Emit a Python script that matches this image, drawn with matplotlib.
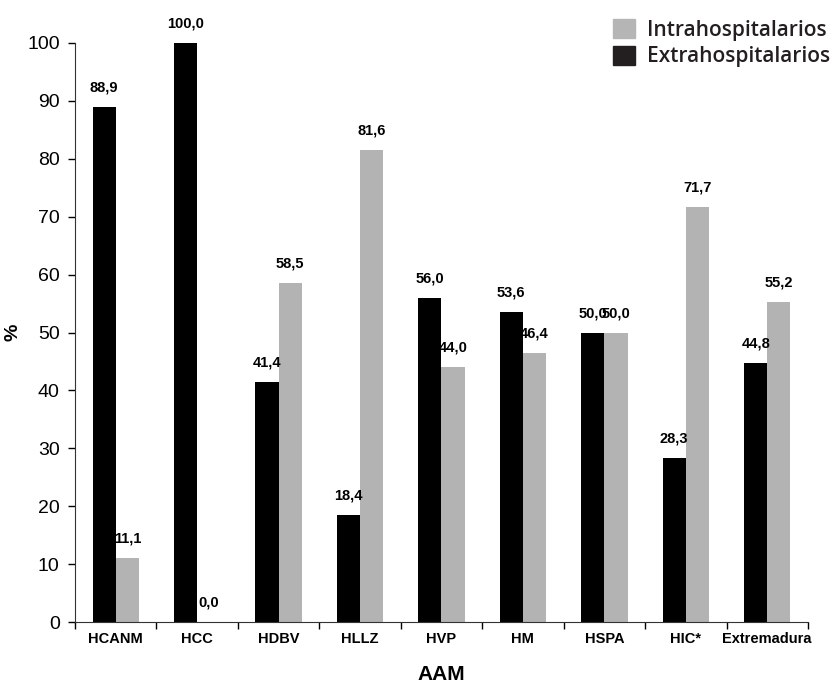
import numpy as np
import matplotlib.pyplot as plt
from matplotlib.patches import Patch

# Data
categories = ["HCANM", "HCC", "HDBV", "HLLZ", "HVP", "HM", "HSPA", "HIC*", "Extremadura"]
extra = [88.9, 100.0, 41.4, 18.4, 56.0, 53.6, 50.0, 28.3, 44.8]
intra = [11.1, 0.0, 58.5, 81.6, 44.0, 46.4, 50.0, 71.7, 55.2]

plt.rcParams['font.family'] = ['Liberation Sans', 'DejaVu Sans']

fig = plt.figure(figsize=(8.39, 6.89), dpi=100)
ax = fig.add_axes([0.0894, 0.0972, 0.8736, 0.8404])

x = np.arange(len(categories))
w = 0.285
b1 = ax.bar(x - w / 2, extra, w, color="#000000")
b2 = ax.bar(x + w / 2, intra, w, color="#b3b3b3")

# value labels
for bars, vals in [(b1, extra), (b2, intra)]:
    for rect, v in zip(bars, vals):
        ax.annotate(f"{v:.1f}".replace(".", ","),
                    (rect.get_x() + rect.get_width() / 2, v),
                    xytext=(0, 9), textcoords="offset points",
                    ha="center", va="bottom", fontsize=10.5, fontweight="bold")

ax.set_xlim(-0.5, len(categories) - 0.5)
ax.set_ylim(0, 100)
ax.set_yticks(range(0, 101, 10))
ax.tick_params(axis="y", labelsize=14, length=5, width=1, direction="out", pad=6)

ax.set_xticks(x)
ax.set_xticklabels(categories, fontsize=10.5, fontweight="bold")
ax.tick_params(axis="x", length=0, pad=7)
ax.set_xticks(np.arange(-0.5, len(categories), 1), minor=True)
ax.tick_params(axis="x", which="minor", length=5, width=1, direction="out")

ax.spines["top"].set_visible(False)
ax.spines["right"].set_visible(False)
ax.spines["left"].set_color("#333333")
ax.spines["bottom"].set_color("#333333")

ax.set_xlabel("AAM", fontsize=15, fontweight="bold", labelpad=14)
ax.set_ylabel("%", fontsize=14, fontweight="bold", labelpad=4)

handles = [Patch(color="#b5b5b5", label="Intrahospitalarios"),
           Patch(color="#231f20", label="Extrahospitalarios")]
leg = fig.legend(handles=handles, loc="upper right", bbox_to_anchor=(1.012, 1.0),
                 frameon=False, prop={"family": "Open Sans", "size": 15, "weight": 600},
                 handlelength=1.05, handleheight=1.05, handletextpad=0.6,
                 labelspacing=0.25)
for t in leg.get_texts():
    t.set_color("#231f20")

fig.savefig("out.png", dpi=100)
